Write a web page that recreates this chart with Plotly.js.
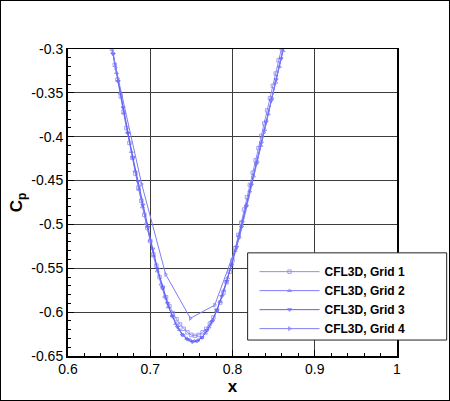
<!DOCTYPE html>
<html><head><meta charset="utf-8">
<script src="https://cdn.plot.ly/plotly-3.0.1.min.js"></script>
<style>html,body{margin:0;padding:0;background:#fff;}#chart{width:448px;height:399px;border:1px solid #000;}</style>
</head><body><div id="chart"></div>
<script>
var seriesNames = ["CFL3D, Grid 1","CFL3D, Grid 2","CFL3D, Grid 3","CFL3D, Grid 4"];
var x1 = [0.6535,0.6568,0.6601,0.6641,0.6674,0.6710,0.6747,0.6783,0.6819,0.6856,0.6892,0.6928,0.6964,0.7001,0.7038,0.7075,0.7113,0.7152,0.7192,0.7233,0.7275,0.7318,0.7362,0.7407,0.7452,0.7498,0.7544,0.7590,0.7636,0.7681,0.7725,0.7768,0.7810,0.7850,0.7889,0.7927,0.7964,0.8000,0.8036,0.8071,0.8106,0.8141,0.8176,0.8211,0.8246,0.8281,0.8316,0.8351,0.8386,0.8421,0.8456,0.8491,0.8526,0.8561,0.8596,0.8631];
var y1 = [-0.300,-0.318,-0.335,-0.354,-0.372,-0.390,-0.407,-0.424,-0.442,-0.458,-0.473,-0.489,-0.504,-0.519,-0.534,-0.547,-0.560,-0.572,-0.583,-0.593,-0.601,-0.608,-0.614,-0.619,-0.623,-0.626,-0.627,-0.626,-0.623,-0.619,-0.613,-0.606,-0.598,-0.589,-0.578,-0.566,-0.554,-0.541,-0.527,-0.512,-0.498,-0.483,-0.469,-0.455,-0.441,-0.427,-0.413,-0.399,-0.385,-0.370,-0.356,-0.342,-0.328,-0.313,-0.299,-0.285];
var x2 = [0.6545,0.6590,0.6635,0.6680,0.6725,0.6770,0.6815,0.6860,0.6905,0.6950,0.6995,0.7040,0.7085,0.7130,0.7175,0.7220,0.7265,0.7310,0.7355,0.7400,0.7445,0.7490,0.7535,0.7580,0.7625,0.7670,0.7715,0.7760,0.7805,0.7850,0.7895,0.7940,0.7985,0.8030,0.8075,0.8120,0.8165,0.8210,0.8255,0.8300,0.8345,0.8390,0.8435,0.8480,0.8525,0.8570,0.8615];
var y2 = [-0.304,-0.327,-0.350,-0.373,-0.395,-0.417,-0.439,-0.460,-0.480,-0.499,-0.518,-0.536,-0.553,-0.568,-0.582,-0.594,-0.604,-0.613,-0.620,-0.626,-0.630,-0.632,-0.633,-0.632,-0.629,-0.624,-0.617,-0.609,-0.599,-0.588,-0.575,-0.561,-0.546,-0.530,-0.513,-0.496,-0.479,-0.462,-0.445,-0.428,-0.410,-0.392,-0.374,-0.356,-0.338,-0.320,-0.302];
var x3 = [0.6550,0.6610,0.6670,0.6730,0.6790,0.6850,0.6910,0.6970,0.7030,0.7090,0.7150,0.7210,0.7270,0.7330,0.7390,0.7450,0.7510,0.7570,0.7630,0.7690,0.7750,0.7810,0.7870,0.7930,0.7990,0.8050,0.8110,0.8170,0.8230,0.8290,0.8350,0.8410,0.8470,0.8530,0.8590,0.8650];
var y3 = [-0.306,-0.337,-0.367,-0.396,-0.424,-0.451,-0.478,-0.503,-0.528,-0.551,-0.572,-0.590,-0.605,-0.617,-0.626,-0.631,-0.634,-0.633,-0.629,-0.621,-0.611,-0.598,-0.582,-0.565,-0.546,-0.526,-0.503,-0.479,-0.455,-0.431,-0.407,-0.383,-0.359,-0.335,-0.311,-0.287];
var x4 = [0.628,0.658,0.6896,0.7188,0.7488,0.7784,0.8085,0.8385,0.8685];
var y4 = [-0.18,-0.321,-0.454,-0.557,-0.607,-0.592,-0.515,-0.395,-0.27];
var xTickVals = [0.6,0.7,0.8,0.9,1];
var xTickText = ["0.6","0.7","0.8","0.9","1"];
var yTickVals = [-0.65,-0.6,-0.55,-0.5,-0.45,-0.4,-0.35,-0.3];
var yTickText = ["-0.65","-0.6","-0.55","-0.5","-0.45","-0.4","-0.35","-0.3"];

var xs = [x1,x2,x3,x4], ys = [y1,y2,y3,y4];
var symbols = ["square-open","triangle-up-open","triangle-down-open","triangle-right-open"];
var colors = ["rgb(140,140,250)","rgb(125,125,250)","rgb(95,95,245)","rgb(125,125,245)"];
var traces = seriesNames.map(function(n,i){
  return {x: xs[i], y: ys[i], name: n, type: "scatter", mode: "lines+markers",
    line: {color: colors[i], width: 1},
    marker: {symbol: symbols[i], size: 3.5, color: colors[i], line: {width: 0.8, color: colors[i]}}};
});
var axFont = {family: "Liberation Sans, Arial, sans-serif", size: 14, color: "#000"};
var layout = {
  width: 448, height: 399,
  margin: {l: 67, r: 52, t: 48, b: 44},
  paper_bgcolor: "#fff", plot_bgcolor: "#fff",
  showlegend: true,
  shapes: [{type: "rect", xref: "paper", yref: "paper", x0: 0.546, x1: 1.151, y0: 0.052, y1: 0.336,
    fillcolor: "#fff", line: {color: "#222", width: 1}, layer: "above"}],
  legend: {x: 0.567, y: 0.322, xanchor: "left", yanchor: "top", bgcolor: "rgba(0,0,0,0)",
    borderwidth: 0, itemwidth: 60,
    font: {family: "Liberation Sans, Arial, sans-serif", size: 12, color: "#000", weight: "bold"}},
  xaxis: {range: [0.6, 1], tickmode: "array", tickvals: xTickVals, ticktext: xTickText,
    ticks: "inside", ticklen: 6, tickcolor: "#000", showline: true, linecolor: "#000", linewidth: 1.5, mirror: true,
    showgrid: true, gridcolor: "rgb(60,60,60)", gridwidth: 1, zeroline: false, tickfont: axFont,
    minor: {tickmode: "linear", tick0: 0.6, dtick: 0.02, ticks: "inside", ticklen: 3, tickcolor: "#000", showgrid: false},
    title: {text: "<b>x</b>", font: {family: "Liberation Sans, Arial, sans-serif", size: 17, color: "#000"}, standoff: 3}},
  yaxis: {range: [-0.65, -0.3], tickmode: "array", tickvals: yTickVals, ticktext: yTickText,
    ticks: "inside", ticklen: 6, tickcolor: "#000", showline: true, linecolor: "#000", linewidth: 2, mirror: true,
    showgrid: true, gridcolor: "rgb(60,60,60)", gridwidth: 1, zeroline: false, tickfont: axFont,
    minor: {tickmode: "linear", tick0: -0.65, dtick: 0.01, ticks: "inside", ticklen: 3, tickcolor: "#000", showgrid: false},
    title: {text: "<b>C<sub>p</sub></b>", font: {family: "Liberation Sans, Arial, sans-serif", size: 17, color: "#000"}, standoff: 4}}
};
Plotly.newPlot("chart", traces, layout, {displayModeBar: false, staticPlot: true});
</script></body></html>
